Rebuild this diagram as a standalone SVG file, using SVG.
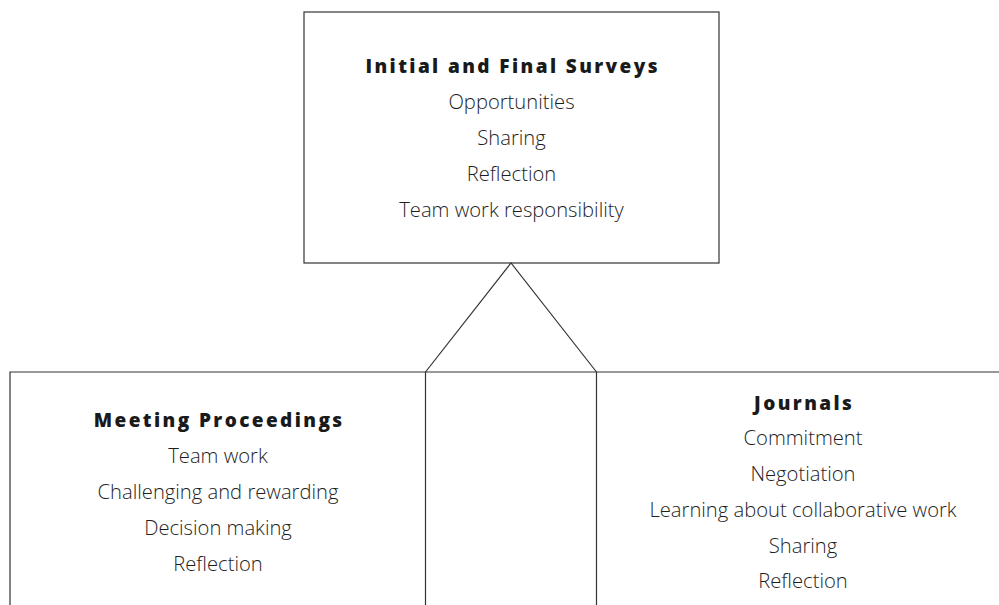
<svg xmlns="http://www.w3.org/2000/svg" width="999" height="605" viewBox="0 0 999 605">
<style>
.ln{fill:none;stroke:#333;stroke-width:1.2}
.t{font-family:"Open Sans","Liberation Sans",sans-serif;font-size:20.2px;font-weight:300;fill:#1e1e1e;text-anchor:middle}
.h{font-family:"Open Sans","Liberation Sans",sans-serif;font-size:19px;font-weight:800;letter-spacing:2.4px;fill:#1a1a1a;text-anchor:middle}
</style>
<rect width="999" height="605" fill="#fff"/>
<g id="connectors">
<polyline class="ln" points="425.5,372 511,263 596.5,372"/>
</g>
<g id="surveys">
<rect class="ln" x="304" y="12" width="415" height="251"/>
<text class="h" x="512.7" y="73">Initial and Final Surveys</text>
<text class="t" x="511.5" y="109">Opportunities</text>
<text class="t" x="511.5" y="145">Sharing</text>
<text class="t" x="511.5" y="181">Reflection</text>
<text class="t" x="511.5" y="217">Team work responsibility</text>
</g>
<g id="meeting">
<polyline class="ln" points="10,606 10,372 425.5,372 425.5,606"/>
<text class="h" x="219.2" y="427">Meeting Proceedings</text>
<text class="t" x="218" y="463">Team work</text>
<text class="t" x="218" y="499">Challenging and rewarding</text>
<text class="t" x="218" y="535">Decision making</text>
<text class="t" x="218" y="571">Reflection</text>
</g>
<g id="middle">
<polyline class="ln" points="425.5,372 596.5,372"/>
</g>
<g id="journals">
<polyline class="ln" points="596.5,606 596.5,372 1000,372"/>
<text class="h" x="804.2" y="410">Journals</text>
<text class="t" x="803" y="445">Commitment</text>
<text class="t" x="803" y="481">Negotiation</text>
<text class="t" x="803" y="517">Learning about collaborative work</text>
<text class="t" x="803" y="553">Sharing</text>
<text class="t" x="803" y="588">Reflection</text>
</g>
</svg>
